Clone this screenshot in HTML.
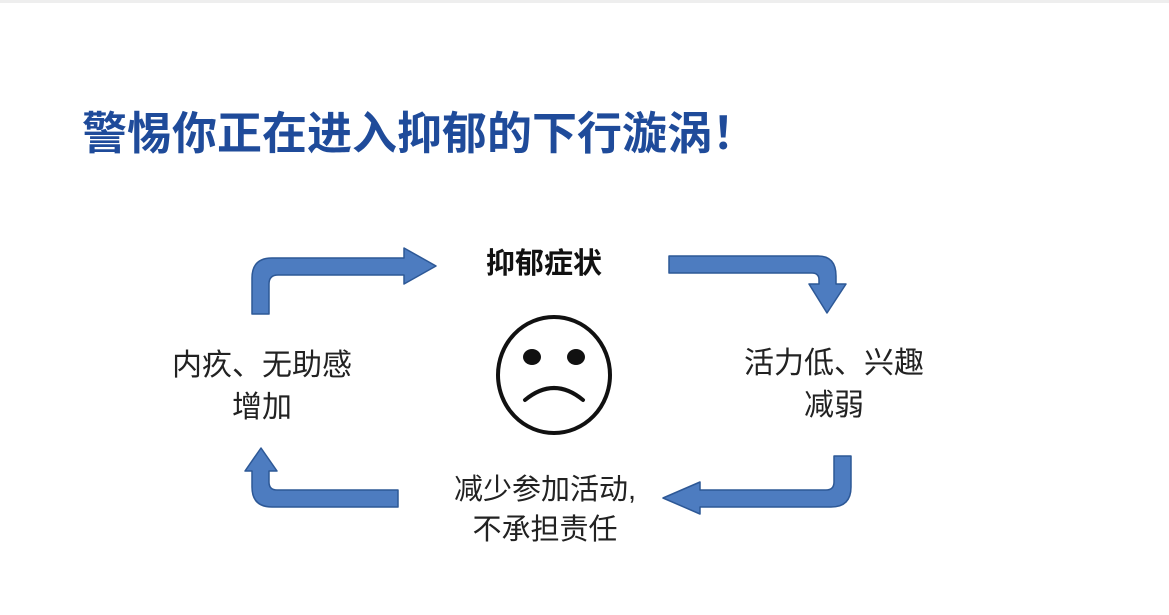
<!DOCTYPE html>
<html><head><meta charset="utf-8"><style>
html,body{margin:0;padding:0;background:#fff;}
body{width:1169px;height:615px;position:relative;overflow:hidden;font-family:"Liberation Sans","Noto Sans CJK SC",sans-serif;}
.t{position:absolute;white-space:nowrap;color:#222;text-align:center;}
</style></head><body>
<div style="position:absolute;left:0;top:0;width:1169px;height:3px;background:#eee"></div>
<div class="t" style="left:82px;top:100px;font-size:45px;font-weight:bold;color:#1f4b9a;line-height:60px;font-family:'Noto Sans CJK SC',sans-serif;">警惕你正在进入抑郁的下行漩涡！</div>
<div class="t" style="left:486px;top:244px;font-size:29px;font-weight:bold;color:#111;line-height:40px;">抑郁症状</div>
<div class="t" style="left:171px;top:345px;width:182px;font-size:30px;line-height:42px;">内疚、无助感<br>增加</div>
<div class="t" style="left:742px;top:343px;width:184px;font-size:30px;line-height:42px;">活力低、兴趣<br>减弱</div>
<div class="t" style="left:444px;top:470px;width:202px;font-size:29px;line-height:40px;">减少参加活动,<br>不承担责任</div>
<svg width="1169" height="615" style="position:absolute;left:0;top:0">
<g fill="#4d7cc0" stroke="#2d5896" stroke-width="1.5" stroke-linejoin="round">
<path d="M252 314 L252 278 Q252 258 272 258 L404 258 L404 248 L436 266 L404 284 L404 275 L278 275 Q269 275 269 284 L269 314 Z"/>
<path d="M669 256 L818 256 Q836 256 836 276 L836 284 L846 284 L827 313 L809 284 L819 284 L819 280 Q819 273 812 273 L669 273 Z"/>
<path d="M851 456 L851 487 Q851 507 831 507 L700 507 L700 514 L663 498 L700 482 L700 490 L826 490 Q834 490 834 482 L834 456 Z"/>
<path d="M398 490 L398 507 L272 507 Q252 507 252 487 L252 471 L245 471 L261 448 L277 471 L269 471 L269 482 Q269 490 277 490 Z"/>
</g>
<ellipse cx="554" cy="375" rx="56" ry="58" fill="none" stroke="#111" stroke-width="4"/>
<ellipse cx="532" cy="357" rx="9" ry="8" fill="#111"/>
<ellipse cx="576" cy="357" rx="9" ry="8" fill="#111"/>
<path d="M525 400 Q554 376 583 400" fill="none" stroke="#111" stroke-width="4" stroke-linecap="round"/>
</svg>
</body></html>
